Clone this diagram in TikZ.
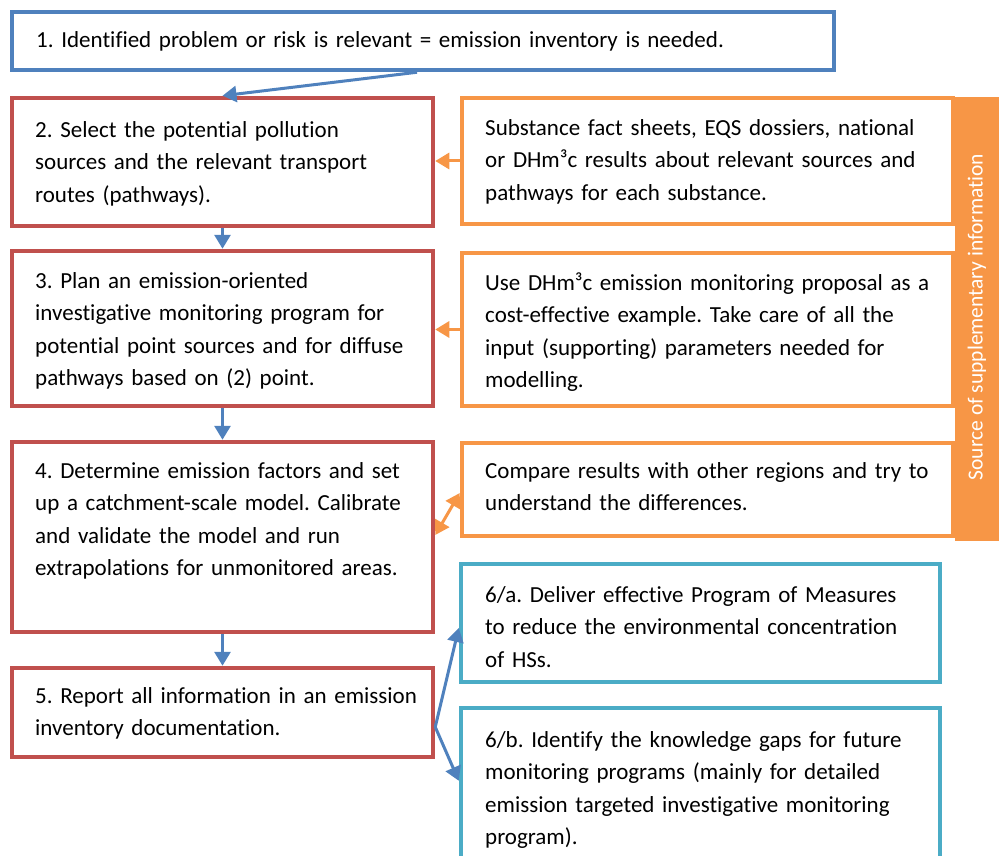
\documentclass[tikz,border=0pt]{standalone}
\usepackage{fontspec}
\setmainfont{Carlito}[Ligatures=CommonOff]
\usetikzlibrary{arrows.meta,calc}
\definecolor{cblue}{HTML}{4F81BD}
\definecolor{cred}{HTML}{C0504D}
\definecolor{corange}{HTML}{F79646}
\definecolor{cteal}{HTML}{4BACC6}
\frenchspacing
\begin{document}
\begin{tikzpicture}[x=1pt,y=-1pt,
  box/.style={draw, line width=4.5pt, rectangle, inner sep=0pt},
  bluebox/.style={box, draw=cblue},
  redbox/.style={box, draw=cred, minimum width=421pt},
  orangebox/.style={box, draw=corange, minimum width=491pt},
  tealbox/.style={box, draw=cteal, minimum width=479pt},
  txt/.style={anchor=north west, inner sep=0pt, text width=780pt, align=left,
    font=\fontsize{23}{32.5}\selectfont},
  conn/.style={line width=3pt, -{Triangle[length=14pt,width=16pt]}},
  bluecn/.style={conn, draw=cblue, fill=cblue},
  orangecn/.style={conn, draw=corange, fill=corange},
]
\clip (0,0) rectangle (999,856);
% side bar
\node[fill=corange, minimum width=60pt, minimum height=443pt, inner sep=0pt] (bar) at (985,319) {};
\node[rotate=90, text=white, inner sep=0pt, font=\fontsize{21.5}{24}\selectfont] (bartxt) at (977,317) {Source of supplementary information};
% boxes
\node[bluebox, minimum width=822pt, minimum height=58pt] (b1) at (423,41) {};
\node[redbox, minimum height=128pt] (b2) at (222.5,162) {};
\node[redbox, minimum height=155pt] (b3) at (222.5,328.5) {};
\node[redbox, minimum height=190pt] (b4) at (222.5,537) {};
\node[redbox, minimum height=89pt] (b5) at (222.5,712.5) {};
\node[orangebox, minimum height=126pt] (oA) at (707.5,161) {};
\node[orangebox, minimum height=153pt] (oB) at (707.5,329.5) {};
\node[orangebox, minimum height=93pt] (oC) at (707.5,489.5) {};
\node[tealbox, minimum height=118pt] (t6a) at (700.5,623) {};
\node[tealbox, minimum height=172pt] (t6b) at (700.5,794) {};
% texts
\node[txt] (x1) at (36,24.25) {\strut 1. Identified problem or risk is relevant = emission inventory is needed.};
\node[txt] (x2) at (35,114.25) {\strut 2. Select the potential pollution\\ sources and the relevant transport\\ routes (pathways).};
\node[txt] (x3) at (35,265.25) {\strut 3. Plan an emission-oriented\\ investigative monitoring program for\\ potential point sources and for diffuse\\ pathways based on (2) point.};
\node[txt] (x4) at (35,455.25) {\strut 4. Determine emission factors and set\\ up a catchment-scale model. Calibrate\\ and validate the model and run\\ extrapolations for unmonitored areas.};
\node[txt] (x5) at (35,680.25) {\strut 5. Report all information in an emission\\ inventory documentation.};
\node[txt] (xA) at (485,112.25) {\strut Substance fact sheets, EQS dossiers, national\\ or DHm³c results about relevant sources and\\ pathways for each substance.};
\node[txt] (xB) at (485,267.25) {\strut Use DHm³c emission monitoring proposal as a\\ cost-effective example. Take care of all the\\ input (supporting) parameters needed for\\ modelling.};
\node[txt] (xC) at (485,455.25) {\strut Compare results with other regions and try to\\ understand the differences.};
\node[txt] (x6a) at (485,579.25) {\strut 6/a. Deliver effective Program of Measures\\ to reduce the environmental concentration\\ of HSs.};
\node[txt] (x6b) at (485,724.25) {\strut 6/b. Identify the knowledge gaps for future\\ monitoring programs (mainly for detailed\\ emission targeted investigative monitoring\\ program).};
% connectors
\draw[bluecn] ($(b1.south)+(-6,0)$) -- (b2.north);
\draw[bluecn] (b2.south) -- (b3.north);
\draw[bluecn] (b3.south) -- (b4.north);
\draw[bluecn] (b4.south) -- (b5.north);
\draw[orangecn] (oA.west) -- (oA.west -| b2.east);
\draw[orangecn] (oB.west) -- (oB.west -| b3.east);
\draw[orangecn, {Triangle[length=14pt,width=16pt]}-{Triangle[length=14pt,width=16pt]}] ($(b4.east)+(0,-2)$) -- ($(oC.west)+(0,3.5)$);
\coordinate (split) at ($(b5.east)+(0,14.5)$);
\draw[bluecn] (split) -- ($(t6a.west)+(0,5)$);
\draw[bluecn] (split) -- ($(t6b.north west)+(0,75)$);
\end{tikzpicture}
\end{document}
